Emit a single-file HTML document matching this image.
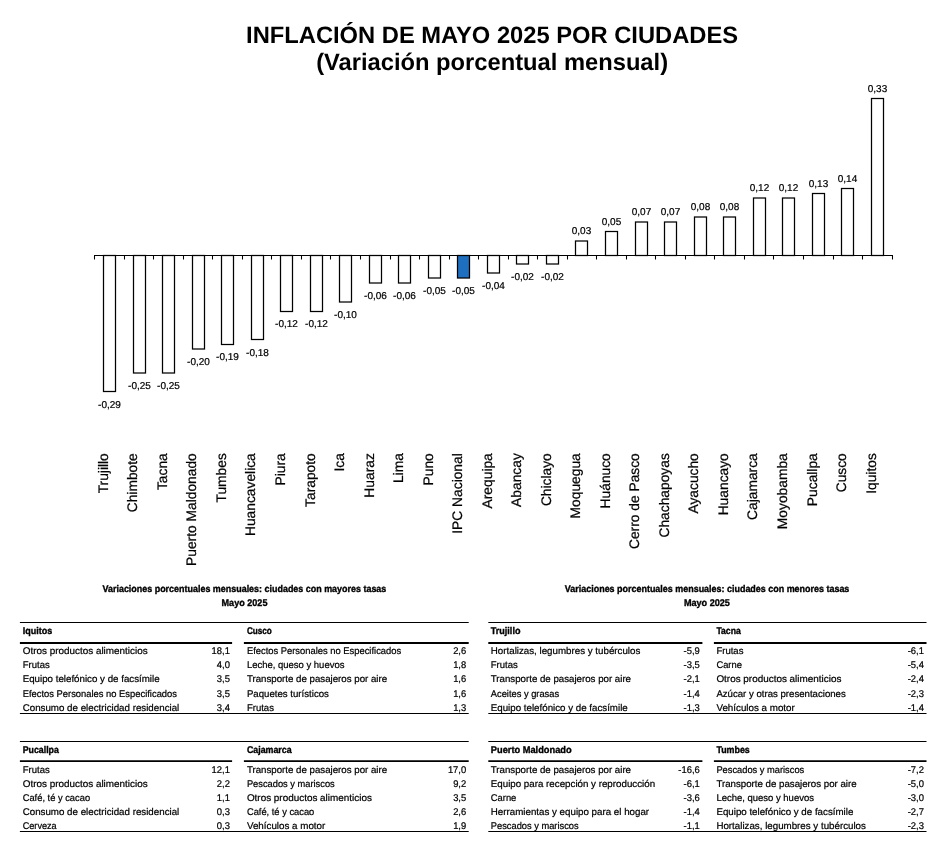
<!DOCTYPE html>
<html lang="es"><head><meta charset="utf-8"><title>Inflación de mayo 2025 por ciudades</title>
<style>html,body{margin:0;padding:0;background:#fff}body{width:945px;height:850px;overflow:hidden}svg{display:block}text{text-rendering:geometricPrecision;font-family:"Liberation Sans",sans-serif;fill:#000}.ttl{font-weight:bold;font-size:23.73px;text-anchor:middle}.v,.c,.r,.n{stroke:#000;stroke-width:0.22px}.v{font-size:10.0px;text-anchor:middle}.c{font-size:13.8px;text-anchor:end}.r{font-size:9.7px}.b{font-size:9.7px;font-weight:bold;stroke:#000;stroke-width:0.35px}.n{font-size:9.7px}.bar{fill:#fff;stroke:#000;stroke-width:1.25}.ax{stroke:#000;stroke-width:1.05;fill:none}</style></head><body>
<svg width="945" height="850" viewBox="0 0 945 850">
<rect width="945" height="850" fill="#fff"/>
<text class="ttl" x="492.1" y="43.3">INFLACIÓN DE MAYO 2025 POR CIUDADES</text>
<text class="ttl" x="492.1" y="69.6">(Variación porcentual mensual)</text>
<rect class="bar" x="103.50" y="255.50" width="12.00" height="136.00"/>
<rect class="bar" x="133.50" y="255.50" width="12.00" height="117.50"/>
<rect class="bar" x="162.50" y="255.50" width="12.00" height="117.50"/>
<rect class="bar" x="192.50" y="255.50" width="12.00" height="93.50"/>
<rect class="bar" x="221.50" y="255.50" width="12.00" height="89.00"/>
<rect class="bar" x="251.50" y="255.50" width="12.00" height="84.00"/>
<rect class="bar" x="280.50" y="255.50" width="12.00" height="56.00"/>
<rect class="bar" x="310.50" y="255.50" width="12.00" height="56.00"/>
<rect class="bar" x="339.50" y="255.50" width="12.00" height="46.50"/>
<rect class="bar" x="369.50" y="255.50" width="12.00" height="27.50"/>
<rect class="bar" x="398.50" y="255.50" width="12.00" height="27.50"/>
<rect class="bar" x="428.50" y="255.50" width="12.00" height="22.50"/>
<rect class="bar" style="fill:#1f6fc1" x="457.50" y="255.50" width="12.00" height="22.50"/>
<rect class="bar" x="487.50" y="255.50" width="12.00" height="17.50"/>
<rect class="bar" x="516.50" y="255.50" width="12.00" height="8.50"/>
<rect class="bar" x="546.50" y="255.50" width="12.00" height="8.50"/>
<rect class="bar" x="575.50" y="241.00" width="12.00" height="14.50"/>
<rect class="bar" x="605.50" y="231.50" width="12.00" height="24.00"/>
<rect class="bar" x="635.50" y="222.00" width="12.00" height="33.50"/>
<rect class="bar" x="664.50" y="222.00" width="12.00" height="33.50"/>
<rect class="bar" x="694.50" y="217.00" width="12.00" height="38.50"/>
<rect class="bar" x="723.50" y="217.00" width="12.00" height="38.50"/>
<rect class="bar" x="753.50" y="198.00" width="12.00" height="57.50"/>
<rect class="bar" x="782.50" y="198.00" width="12.00" height="57.50"/>
<rect class="bar" x="812.50" y="193.50" width="12.00" height="62.00"/>
<rect class="bar" x="841.50" y="188.50" width="12.00" height="67.00"/>
<rect class="bar" x="871.50" y="98.50" width="12.00" height="157.00"/>
<path class="ax" d="M94.00 255.50H893.00M94.50 255.50v3.9M124.50 255.50v3.9M153.50 255.50v3.9M183.50 255.50v3.9M212.50 255.50v3.9M242.50 255.50v3.9M271.50 255.50v3.9M301.50 255.50v3.9M330.50 255.50v3.9M360.50 255.50v3.9M390.50 255.50v3.9M419.50 255.50v3.9M449.50 255.50v3.9M478.50 255.50v3.9M508.50 255.50v3.9M537.50 255.50v3.9M567.50 255.50v3.9M596.50 255.50v3.9M626.50 255.50v3.9M655.50 255.50v3.9M685.50 255.50v3.9M714.50 255.50v3.9M744.50 255.50v3.9M773.50 255.50v3.9M803.50 255.50v3.9M833.50 255.50v3.9M862.50 255.50v3.9M892.50 255.50v3.9"/>
<text class="v" x="109.50" y="407.67">-0,29</text>
<text class="v" x="139.50" y="388.75">-0,25</text>
<text class="v" x="168.50" y="388.75">-0,25</text>
<text class="v" x="198.50" y="365.10">-0,20</text>
<text class="v" x="227.50" y="360.37">-0,19</text>
<text class="v" x="257.50" y="355.64">-0,18</text>
<text class="v" x="286.50" y="327.26">-0,12</text>
<text class="v" x="316.50" y="327.26">-0,12</text>
<text class="v" x="345.50" y="317.80">-0,10</text>
<text class="v" x="375.50" y="298.88">-0,06</text>
<text class="v" x="404.50" y="298.88">-0,06</text>
<text class="v" x="434.50" y="294.15">-0,05</text>
<text class="v" x="463.50" y="294.15">-0,05</text>
<text class="v" x="493.50" y="289.10">-0,04</text>
<text class="v" x="522.50" y="280.00">-0,02</text>
<text class="v" x="552.50" y="280.00">-0,02</text>
<text class="v" x="581.50" y="234.08">0,03</text>
<text class="v" x="611.50" y="224.60">0,05</text>
<text class="v" x="641.50" y="215.12">0,07</text>
<text class="v" x="670.50" y="215.12">0,07</text>
<text class="v" x="700.50" y="210.38">0,08</text>
<text class="v" x="729.50" y="210.38">0,08</text>
<text class="v" x="759.50" y="191.42">0,12</text>
<text class="v" x="788.50" y="191.42">0,12</text>
<text class="v" x="818.50" y="186.68">0,13</text>
<text class="v" x="847.50" y="181.94">0,14</text>
<text class="v" x="877.50" y="91.88">0,33</text>
<text class="c" transform="translate(107.81 453.20) rotate(-90)">Trujillo</text>
<text class="c" transform="translate(137.35 453.20) rotate(-90)">Chimbote</text>
<text class="c" transform="translate(166.88 453.20) rotate(-90)">Tacna</text>
<text class="c" transform="translate(196.41 453.20) rotate(-90)">Puerto Maldonado</text>
<text class="c" transform="translate(225.94 453.20) rotate(-90)">Tumbes</text>
<text class="c" transform="translate(255.47 453.20) rotate(-90)">Huancavelica</text>
<text class="c" transform="translate(285.00 453.20) rotate(-90)">Piura</text>
<text class="c" transform="translate(314.53 453.20) rotate(-90)">Tarapoto</text>
<text class="c" transform="translate(344.06 453.20) rotate(-90)">Ica</text>
<text class="c" transform="translate(373.59 453.20) rotate(-90)">Huaraz</text>
<text class="c" transform="translate(403.12 453.20) rotate(-90)">Lima</text>
<text class="c" transform="translate(432.65 453.20) rotate(-90)">Puno</text>
<text class="c" transform="translate(462.18 453.20) rotate(-90)">IPC Nacional</text>
<text class="c" transform="translate(491.71 453.20) rotate(-90)">Arequipa</text>
<text class="c" transform="translate(521.23 453.20) rotate(-90)">Abancay</text>
<text class="c" transform="translate(550.76 453.20) rotate(-90)">Chiclayo</text>
<text class="c" transform="translate(580.29 453.20) rotate(-90)">Moquegua</text>
<text class="c" transform="translate(609.82 453.20) rotate(-90)">Huánuco</text>
<text class="c" transform="translate(639.36 453.20) rotate(-90)">Cerro de Pasco</text>
<text class="c" transform="translate(668.88 453.20) rotate(-90)">Chachapoyas</text>
<text class="c" transform="translate(698.41 453.20) rotate(-90)">Ayacucho</text>
<text class="c" transform="translate(727.94 453.20) rotate(-90)">Huancayo</text>
<text class="c" transform="translate(757.48 453.20) rotate(-90)">Cajamarca</text>
<text class="c" transform="translate(787.00 453.20) rotate(-90)">Moyobamba</text>
<text class="c" transform="translate(816.53 453.20) rotate(-90)">Pucallpa</text>
<text class="c" transform="translate(846.06 453.20) rotate(-90)">Cusco</text>
<text class="c" transform="translate(875.60 453.20) rotate(-90)">Iquitos</text>
<text class="b" x="244.40" y="591.80" textLength="283.80" lengthAdjust="spacingAndGlyphs" text-anchor="middle">Variaciones porcentuales mensuales: ciudades con mayores tasas</text>
<text class="b" x="244.50" y="605.60" textLength="45.90" lengthAdjust="spacingAndGlyphs" text-anchor="middle">Mayo 2025</text>
<text class="b" x="707.10" y="591.80" textLength="284.50" lengthAdjust="spacingAndGlyphs" text-anchor="middle">Variaciones porcentuales mensuales: ciudades con menores tasas</text>
<text class="b" x="706.90" y="605.60" textLength="46.00" lengthAdjust="spacingAndGlyphs" text-anchor="middle">Mayo 2025</text>
<path d="M19.90 622.50H468.70M19.90 713.50H468.70" stroke="#000" stroke-width="1.15" fill="none"/>
<path d="M19.90 643.00H232.10" stroke="#000" stroke-width="2.00" fill="none"/>
<text class="b" x="22.70" y="634.00" textLength="29.55" lengthAdjust="spacingAndGlyphs">Iquitos</text>
<text class="r" x="22.70" y="654.00" textLength="124.97" lengthAdjust="spacingAndGlyphs">Otros productos alimenticios</text>
<text class="n" x="229.90" y="654.00" textLength="18.30" lengthAdjust="spacingAndGlyphs" text-anchor="end">18,1</text>
<text class="r" x="22.70" y="668.20" textLength="27.03" lengthAdjust="spacingAndGlyphs">Frutas</text>
<text class="n" x="229.90" y="668.20" textLength="13.06" lengthAdjust="spacingAndGlyphs" text-anchor="end">4,0</text>
<text class="r" x="22.70" y="682.40" textLength="136.93" lengthAdjust="spacingAndGlyphs">Equipo telefónico y de facsímile</text>
<text class="n" x="229.90" y="682.40" textLength="13.06" lengthAdjust="spacingAndGlyphs" text-anchor="end">3,5</text>
<text class="r" x="22.70" y="696.60" textLength="154.28" lengthAdjust="spacingAndGlyphs">Efectos Personales no Especificados</text>
<text class="n" x="229.90" y="696.60" textLength="13.06" lengthAdjust="spacingAndGlyphs" text-anchor="end">3,5</text>
<text class="r" x="22.70" y="710.80" textLength="156.58" lengthAdjust="spacingAndGlyphs">Consumo de electricidad residencial</text>
<text class="n" x="229.90" y="710.80" textLength="13.06" lengthAdjust="spacingAndGlyphs" text-anchor="end">3,4</text>
<path d="M243.90 643.00H468.70" stroke="#000" stroke-width="2.00" fill="none"/>
<text class="b" x="246.90" y="634.00" textLength="24.97" lengthAdjust="spacingAndGlyphs">Cusco</text>
<text class="r" x="246.90" y="654.00" textLength="154.28" lengthAdjust="spacingAndGlyphs">Efectos Personales no Especificados</text>
<text class="n" x="466.20" y="654.00" textLength="13.06" lengthAdjust="spacingAndGlyphs" text-anchor="end">2,6</text>
<text class="r" x="246.90" y="668.20" textLength="97.52" lengthAdjust="spacingAndGlyphs">Leche, queso y huevos</text>
<text class="n" x="466.20" y="668.20" textLength="13.06" lengthAdjust="spacingAndGlyphs" text-anchor="end">1,8</text>
<text class="r" x="246.90" y="682.40" textLength="140.20" lengthAdjust="spacingAndGlyphs">Transporte de pasajeros por aire</text>
<text class="n" x="466.20" y="682.40" textLength="13.06" lengthAdjust="spacingAndGlyphs" text-anchor="end">1,6</text>
<text class="r" x="246.90" y="696.60" textLength="82.00" lengthAdjust="spacingAndGlyphs">Paquetes turísticos</text>
<text class="n" x="466.20" y="696.60" textLength="13.06" lengthAdjust="spacingAndGlyphs" text-anchor="end">1,6</text>
<text class="r" x="246.90" y="710.80" textLength="27.03" lengthAdjust="spacingAndGlyphs">Frutas</text>
<text class="n" x="466.20" y="710.80" textLength="13.06" lengthAdjust="spacingAndGlyphs" text-anchor="end">1,3</text>
<path d="M488.30 622.50H926.50M488.30 713.50H926.50" stroke="#000" stroke-width="1.15" fill="none"/>
<path d="M488.30 643.00H702.40" stroke="#000" stroke-width="2.00" fill="none"/>
<text class="b" x="490.80" y="634.00" textLength="29.62" lengthAdjust="spacingAndGlyphs">Trujillo</text>
<text class="r" x="490.80" y="654.00" textLength="149.50" lengthAdjust="spacingAndGlyphs">Hortalizas, legumbres y tubérculos</text>
<text class="n" x="699.80" y="654.00" textLength="16.22" lengthAdjust="spacingAndGlyphs" text-anchor="end">-5,9</text>
<text class="r" x="490.80" y="668.20" textLength="27.03" lengthAdjust="spacingAndGlyphs">Frutas</text>
<text class="n" x="699.80" y="668.20" textLength="16.22" lengthAdjust="spacingAndGlyphs" text-anchor="end">-3,5</text>
<text class="r" x="490.80" y="682.40" textLength="140.20" lengthAdjust="spacingAndGlyphs">Transporte de pasajeros por aire</text>
<text class="n" x="699.80" y="682.40" textLength="16.22" lengthAdjust="spacingAndGlyphs" text-anchor="end">-2,1</text>
<text class="r" x="490.80" y="696.60" textLength="68.31" lengthAdjust="spacingAndGlyphs">Aceites y grasas</text>
<text class="n" x="699.80" y="696.60" textLength="16.22" lengthAdjust="spacingAndGlyphs" text-anchor="end">-1,4</text>
<text class="r" x="490.80" y="710.80" textLength="136.93" lengthAdjust="spacingAndGlyphs">Equipo telefónico y de facsímile</text>
<text class="n" x="699.80" y="710.80" textLength="16.22" lengthAdjust="spacingAndGlyphs" text-anchor="end">-1,3</text>
<path d="M713.90 643.00H926.50" stroke="#000" stroke-width="2.00" fill="none"/>
<text class="b" x="716.40" y="634.00" textLength="24.41" lengthAdjust="spacingAndGlyphs">Tacna</text>
<text class="r" x="716.40" y="654.00" textLength="27.03" lengthAdjust="spacingAndGlyphs">Frutas</text>
<text class="n" x="923.90" y="654.00" textLength="16.22" lengthAdjust="spacingAndGlyphs" text-anchor="end">-6,1</text>
<text class="r" x="716.40" y="668.20" textLength="25.50" lengthAdjust="spacingAndGlyphs">Carne</text>
<text class="n" x="923.90" y="668.20" textLength="16.22" lengthAdjust="spacingAndGlyphs" text-anchor="end">-5,4</text>
<text class="r" x="716.40" y="682.40" textLength="124.97" lengthAdjust="spacingAndGlyphs">Otros productos alimenticios</text>
<text class="n" x="923.90" y="682.40" textLength="16.22" lengthAdjust="spacingAndGlyphs" text-anchor="end">-2,4</text>
<text class="r" x="716.40" y="696.60" textLength="129.36" lengthAdjust="spacingAndGlyphs">Azúcar y otras presentaciones</text>
<text class="n" x="923.90" y="696.60" textLength="16.22" lengthAdjust="spacingAndGlyphs" text-anchor="end">-2,3</text>
<text class="r" x="716.40" y="710.80" textLength="78.37" lengthAdjust="spacingAndGlyphs">Vehículos a motor</text>
<text class="n" x="923.90" y="710.80" textLength="16.22" lengthAdjust="spacingAndGlyphs" text-anchor="end">-1,4</text>
<path d="M19.90 741.50H468.70M19.90 831.50H468.70" stroke="#000" stroke-width="1.15" fill="none"/>
<path d="M19.90 761.10H232.10" stroke="#000" stroke-width="1.60" fill="none"/>
<text class="b" x="22.70" y="752.80" textLength="36.14" lengthAdjust="spacingAndGlyphs">Pucallpa</text>
<text class="r" x="22.70" y="772.70" textLength="27.03" lengthAdjust="spacingAndGlyphs">Frutas</text>
<text class="n" x="229.90" y="772.70" textLength="18.30" lengthAdjust="spacingAndGlyphs" text-anchor="end">12,1</text>
<text class="r" x="22.70" y="786.75" textLength="124.97" lengthAdjust="spacingAndGlyphs">Otros productos alimenticios</text>
<text class="n" x="229.90" y="786.75" textLength="13.06" lengthAdjust="spacingAndGlyphs" text-anchor="end">2,2</text>
<text class="r" x="22.70" y="800.80" textLength="67.41" lengthAdjust="spacingAndGlyphs">Café, té y cacao</text>
<text class="n" x="229.90" y="800.80" textLength="13.06" lengthAdjust="spacingAndGlyphs" text-anchor="end">1,1</text>
<text class="r" x="22.70" y="814.85" textLength="156.58" lengthAdjust="spacingAndGlyphs">Consumo de electricidad residencial</text>
<text class="n" x="229.90" y="814.85" textLength="13.06" lengthAdjust="spacingAndGlyphs" text-anchor="end">0,3</text>
<text class="r" x="22.70" y="828.90" textLength="33.98" lengthAdjust="spacingAndGlyphs">Cerveza</text>
<text class="n" x="229.90" y="828.90" textLength="13.06" lengthAdjust="spacingAndGlyphs" text-anchor="end">0,3</text>
<path d="M243.90 761.10H468.70" stroke="#000" stroke-width="1.60" fill="none"/>
<text class="b" x="246.90" y="752.80" textLength="44.72" lengthAdjust="spacingAndGlyphs">Cajamarca</text>
<text class="r" x="246.90" y="772.70" textLength="140.20" lengthAdjust="spacingAndGlyphs">Transporte de pasajeros por aire</text>
<text class="n" x="466.20" y="772.70" textLength="18.30" lengthAdjust="spacingAndGlyphs" text-anchor="end">17,0</text>
<text class="r" x="246.90" y="786.75" textLength="87.81" lengthAdjust="spacingAndGlyphs">Pescados y mariscos</text>
<text class="n" x="466.20" y="786.75" textLength="13.06" lengthAdjust="spacingAndGlyphs" text-anchor="end">9,2</text>
<text class="r" x="246.90" y="800.80" textLength="124.97" lengthAdjust="spacingAndGlyphs">Otros productos alimenticios</text>
<text class="n" x="466.20" y="800.80" textLength="13.06" lengthAdjust="spacingAndGlyphs" text-anchor="end">3,5</text>
<text class="r" x="246.90" y="814.85" textLength="67.41" lengthAdjust="spacingAndGlyphs">Café, té y cacao</text>
<text class="n" x="466.20" y="814.85" textLength="13.06" lengthAdjust="spacingAndGlyphs" text-anchor="end">2,6</text>
<text class="r" x="246.90" y="828.90" textLength="78.37" lengthAdjust="spacingAndGlyphs">Vehículos a motor</text>
<text class="n" x="466.20" y="828.90" textLength="13.06" lengthAdjust="spacingAndGlyphs" text-anchor="end">1,9</text>
<path d="M488.30 741.50H926.50M488.30 831.50H926.50" stroke="#000" stroke-width="1.15" fill="none"/>
<path d="M488.30 761.10H702.40" stroke="#000" stroke-width="1.60" fill="none"/>
<text class="b" x="490.80" y="752.80" textLength="80.84" lengthAdjust="spacingAndGlyphs">Puerto Maldonado</text>
<text class="r" x="490.80" y="772.70" textLength="140.20" lengthAdjust="spacingAndGlyphs">Transporte de pasajeros por aire</text>
<text class="n" x="699.80" y="772.70" textLength="21.46" lengthAdjust="spacingAndGlyphs" text-anchor="end">-16,6</text>
<text class="r" x="490.80" y="786.75" textLength="164.29" lengthAdjust="spacingAndGlyphs">Equipo para recepción y reproducción</text>
<text class="n" x="699.80" y="786.75" textLength="16.22" lengthAdjust="spacingAndGlyphs" text-anchor="end">-6,1</text>
<text class="r" x="490.80" y="800.80" textLength="25.50" lengthAdjust="spacingAndGlyphs">Carne</text>
<text class="n" x="699.80" y="800.80" textLength="16.22" lengthAdjust="spacingAndGlyphs" text-anchor="end">-3,6</text>
<text class="r" x="490.80" y="814.85" textLength="158.30" lengthAdjust="spacingAndGlyphs">Herramientas y equipo para el hogar</text>
<text class="n" x="699.80" y="814.85" textLength="16.22" lengthAdjust="spacingAndGlyphs" text-anchor="end">-1,4</text>
<text class="r" x="490.80" y="828.90" textLength="87.81" lengthAdjust="spacingAndGlyphs">Pescados y mariscos</text>
<text class="n" x="699.80" y="828.90" textLength="16.22" lengthAdjust="spacingAndGlyphs" text-anchor="end">-1,1</text>
<path d="M713.90 761.10H926.50" stroke="#000" stroke-width="1.60" fill="none"/>
<text class="b" x="716.40" y="752.80" textLength="33.42" lengthAdjust="spacingAndGlyphs">Tumbes</text>
<text class="r" x="716.40" y="772.70" textLength="87.81" lengthAdjust="spacingAndGlyphs">Pescados y mariscos</text>
<text class="n" x="923.90" y="772.70" textLength="16.22" lengthAdjust="spacingAndGlyphs" text-anchor="end">-7,2</text>
<text class="r" x="716.40" y="786.75" textLength="140.20" lengthAdjust="spacingAndGlyphs">Transporte de pasajeros por aire</text>
<text class="n" x="923.90" y="786.75" textLength="16.22" lengthAdjust="spacingAndGlyphs" text-anchor="end">-5,0</text>
<text class="r" x="716.40" y="800.80" textLength="97.52" lengthAdjust="spacingAndGlyphs">Leche, queso y huevos</text>
<text class="n" x="923.90" y="800.80" textLength="16.22" lengthAdjust="spacingAndGlyphs" text-anchor="end">-3,0</text>
<text class="r" x="716.40" y="814.85" textLength="136.93" lengthAdjust="spacingAndGlyphs">Equipo telefónico y de facsímile</text>
<text class="n" x="923.90" y="814.85" textLength="16.22" lengthAdjust="spacingAndGlyphs" text-anchor="end">-2,7</text>
<text class="r" x="716.40" y="828.90" textLength="149.50" lengthAdjust="spacingAndGlyphs">Hortalizas, legumbres y tubérculos</text>
<text class="n" x="923.90" y="828.90" textLength="16.22" lengthAdjust="spacingAndGlyphs" text-anchor="end">-2,3</text>
</svg></body></html>
